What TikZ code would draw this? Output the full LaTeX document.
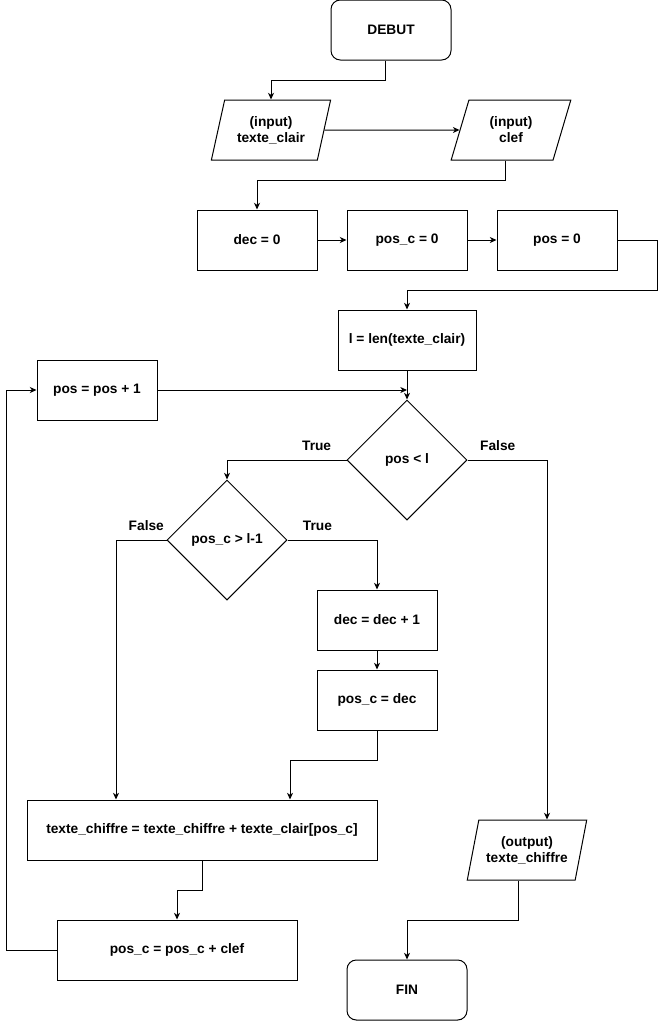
\documentclass[tikz,border=0pt]{standalone}
\usepackage{fontspec}
\setmainfont{Liberation Sans}
\usetikzlibrary{shapes.geometric,arrows.meta}

\begin{document}
\begin{tikzpicture}[
  x=0.75pt, y=-0.75pt,
  every node/.style={font=\fontsize{10.3}{12}\selectfont\bfseries, align=center},
  box/.style={draw, line width=0.75pt, minimum width=90pt, minimum height=45pt, inner sep=2pt},
  term/.style={box, rounded corners=7pt},
  io/.style={draw, line width=0.75pt, trapezium, trapezium left angle=71.57,
    trapezium right angle=108.43, trapezium stretches=true,
    minimum width=90pt, minimum height=45pt, inner sep=1pt},
  decision/.style={draw, line width=0.75pt, diamond, minimum width=90pt,
    minimum height=90pt, inner sep=0pt},
  arr/.style={-{Stealth[length=5pt,width=4.5pt,inset=1.5pt]}, line width=0.75pt},
  lbl/.style={above, yshift=3pt}
]
\useasboundingbox (0,0) rectangle (666,1021);

% noeuds
\node[term] (debut) at (391,30) {DEBUT};
\node[io] (txt) at (271,130) {(input)\\texte\_clair};
\node[io] (key) at (511,130) {(input)\\clef};
\node[box] (dec) at (257,240) {dec = 0};
\node[box] (posc) at (407,240) {pos\_c = 0};
\node[box] (pos) at (557,240) {pos = 0};
\node[box, minimum width=103.5pt] (len) at (407,340) {l = len(texte\_clair)};
\node[box] (inc) at (97,390) {pos = pos + 1};
\node[decision] (cmp) at (407,460) {pos < l};
\node[decision] (chk) at (227,540) {pos\_c > l-1};
\node[box] (incdec) at (377,620) {dec = dec + 1};
\node[box] (setc) at (377,700) {pos\_c = dec};
\node[box, minimum width=262.5pt] (cat) at (202,830) {texte\_chiffre = texte\_chiffre + texte\_clair[pos\_c]};
\node[box, minimum width=180pt] (upd) at (177,950) {pos\_c = pos\_c + clef};
\node[io] (out) at (527,850) {(output)\\texte\_chiffre};
\node[term] (fin) at (407,990) {FIN};

% liaisons
\draw[arr] ([xshift=-4.5pt]debut.south) -- ++(0,20) -| (txt.north);
\draw[arr] (txt.east) -- (key.west);
\draw[arr] ([xshift=-4.5pt]key.south) -- ++(0,20) -| (dec.north);
\draw[arr] (dec.east) -- (posc.west);
\draw[arr] (posc.east) -- (pos.west);
\draw[arr] (pos.east) -- ++(40,0) -- ++(0,50) -| (len.north);
\draw[arr] (len.south) -- (cmp.north);
\draw[arr] (inc.east) -- (inc.east -| cmp.north);
\draw[arr] (cmp.west) -| node[lbl, pos=0.125] {True} (chk.north);
\draw[arr] (cmp.east) -| node[lbl, pos=0.19] {False} ([xshift=15pt]out.north);
\draw[arr] (chk.east) -| node[lbl, pos=0.167] {True} (incdec.north);
\draw[arr] (chk.west) -| node[lbl, pos=0.2] {False} ([xshift=-64.5pt]cat.north);
\draw[arr] (incdec.south) -- (setc.north);
\draw[arr] (setc.south) -- ++(0,30) -| ([xshift=66pt]cat.north);
\draw[arr] (cat.south) -- ++(0,30) -| (upd.north);
\draw[arr] (upd.west) -- ++(-50,0) |- (inc.west);
\draw[arr] ([xshift=-6.75pt]out.south) -- ++(0,40) -| (fin.north);
\end{tikzpicture}
\end{document}
